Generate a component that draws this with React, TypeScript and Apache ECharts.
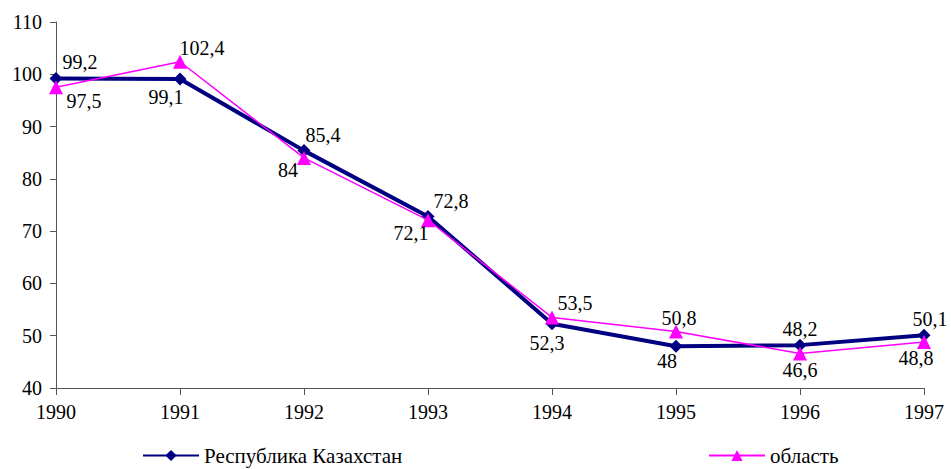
import React, { useEffect, useRef } from "react";
import * as echarts from "echarts";

const years = ["1990", "1991", "1992", "1993", "1994", "1995", "1996", "1997"];
const kazName = "Республика Казахстан";
const oblName = "область";
const kazValues = [99.2, 99.1, 85.4, 72.8, 52.3, 48, 48.2, 50.1];
const oblValues = [97.5, 102.4, 84, 72.1, 53.5, 50.8, 46.6, 48.8];

// label offsets (pixels) relative to each point
const kazOffsets: [number, number][] = [
  [24, -16], [-14, 18], [19, -16], [23, -16], [-5, 19], [-9, 15], [0, -16], [6, -16],
];
const oblOffsets: [number, number][] = [
  [28, 14], [22, -14], [-16, 12], [-17, 13], [23, -14], [3, -14], [0, 17], [-8, 16],
];

const FONT = "Liberation Serif, Times New Roman, Liberation Sans, serif";

export default function App() {
  const ref = useRef<HTMLDivElement>(null);
  useEffect(() => {
    if (!ref.current) return;
    const chart = echarts.init(ref.current, null, { renderer: "svg" });
    const fmt = (p: any) => String(p.value).replace(".", ",");
    const labelBase = {
      show: true,
      position: "inside" as const,
      color: "#000",
      fontFamily: FONT,
      fontSize: 20,
      formatter: fmt,
    };
    const legendText = { fontFamily: FONT, fontSize: 21, color: "#000" };
    chart.setOption({
      animation: false,
      backgroundColor: "#fff",
      textStyle: { fontFamily: FONT },
      grid: { left: 56, right: 27, top: 22, bottom: 81, containLabel: false },
      legend: [
        {
          data: [kazName],
          left: 137,
          top: 440,
          itemWidth: 56,
          itemHeight: 14,
          itemGap: 5,
          textStyle: legendText,
        },
        {
          data: [oblName],
          left: 703,
          top: 440,
          itemWidth: 56,
          itemHeight: 14,
          itemGap: 5,
          textStyle: legendText,
        },
      ],
      xAxis: {
        type: "category",
        data: years,
        boundaryGap: false,
        axisLine: { lineStyle: { color: "#555", width: 1 } },
        axisTick: { show: true, length: 7, lineStyle: { color: "#555" } },
        axisLabel: { color: "#000", fontFamily: FONT, fontSize: 20, margin: 14 },
        splitLine: { show: false },
      },
      yAxis: {
        type: "value",
        min: 40,
        max: 110,
        interval: 10,
        axisLine: { show: true, lineStyle: { color: "#555", width: 1 } },
        axisTick: { show: true, length: 6, lineStyle: { color: "#555" } },
        axisLabel: { color: "#000", fontFamily: FONT, fontSize: 20, margin: 14 },
        splitLine: { show: false },
      },
      series: [
        {
          name: kazName,
          type: "line",
          data: kazValues.map((v, i) => ({ value: v, label: { offset: kazOffsets[i] } })),
          symbol: "diamond",
          symbolSize: 13,
          color: "#000080",
          lineStyle: { color: "#000080", width: 4 },
          itemStyle: { color: "#000080" },
          label: labelBase,
          z: 2,
        },
        {
          name: oblName,
          type: "line",
          data: oblValues.map((v, i) => ({ value: v, label: { offset: oblOffsets[i] } })),
          symbol: "triangle",
          symbolSize: 14,
          color: "#ff00ff",
          lineStyle: { color: "#ff00ff", width: 1.5 },
          itemStyle: { color: "#ff00ff" },
          label: labelBase,
          z: 3,
        },
      ],
    });
    return () => chart.dispose();
  }, []);
  return (
    <div
      ref={ref}
      style={{ position: "fixed", left: 0, top: 0, width: 951, height: 469, background: "#fff" }}
    />
  );
}
